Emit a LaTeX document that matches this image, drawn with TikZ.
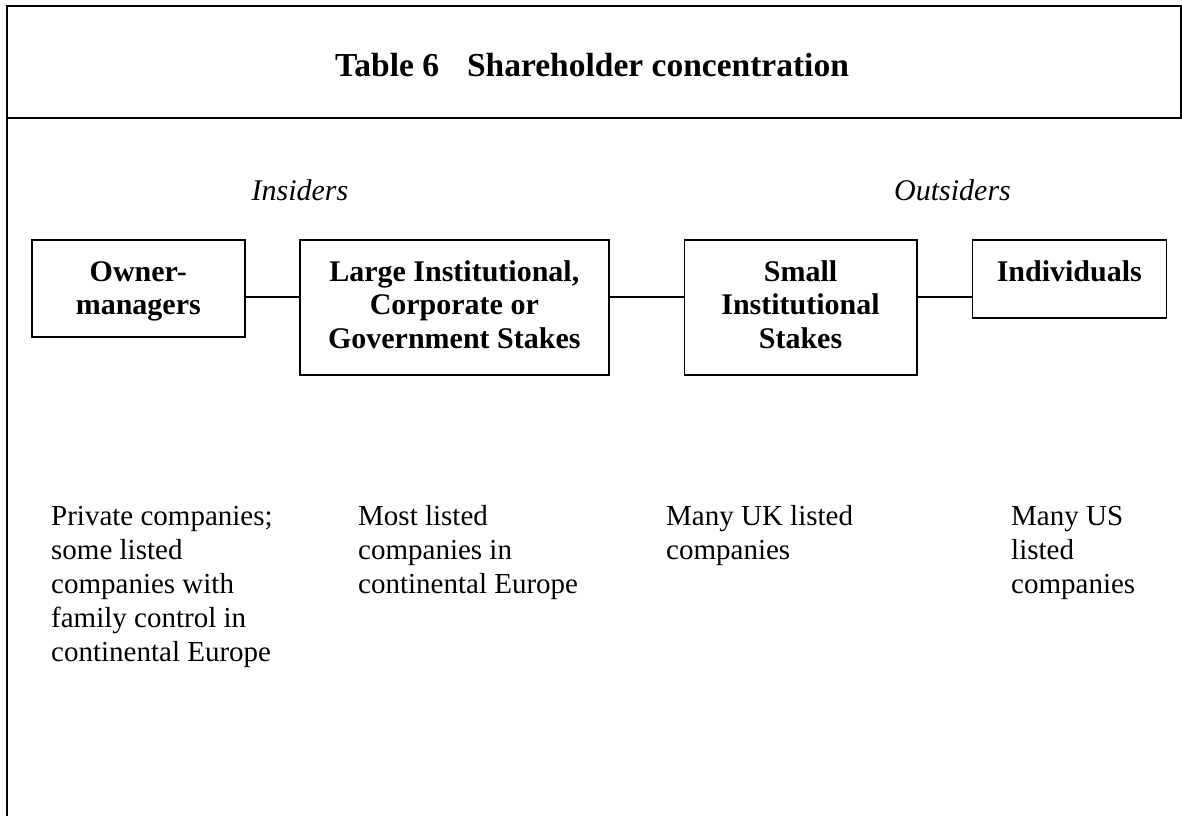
\documentclass[tikz,border=0pt]{standalone}
\usepackage{fontspec}
\setmainfont{Liberation Serif}
\usetikzlibrary{calc}
\begin{document}
\begin{tikzpicture}[x=1pt,y=-1pt,
  frameline/.style={line width=2pt},
  stakebox/.style={draw, line width=1.6pt, inner sep=0pt, anchor=north west},
  boxlabel/.style={anchor=base, inner sep=0pt, font=\fontsize{30}{33.5}\selectfont\bfseries},
  titletext/.style={anchor=base, inner sep=0pt, font=\fontsize{33.5}{40}\selectfont\bfseries},
  side/.style={anchor=base, inner sep=0pt, font=\fontsize{30}{34}\selectfont\itshape},
  note/.style={anchor=base west, inner sep=0pt, font=\fontsize{29}{34}\selectfont},
  link/.style={line width=1.5pt}]
\useasboundingbox (0,0) rectangle (1182,816);
% table frame
\draw[frameline] (7,816) -- (7,6) -- (1181,6) -- (1181,118);
\draw[frameline] (7,118) -- (1182,118);
% title
\node[titletext] (title) at (592,77) {Table 6\hspace{28pt}Shareholder concentration};
% side labels
\node[side] (insiders) at (300,200) {Insiders};
\node[side] (outsiders) at (952.5,200) {Outsiders};
% boxes
\node[stakebox, minimum width=213pt, minimum height=97pt] (owner) at (31,239) {};
\node[stakebox, minimum width=309pt, minimum height=135pt] (large) at (299,239) {};
\node[stakebox, minimum width=232.5pt, minimum height=135pt] (small) at (683.5,239) {};
\node[stakebox, minimum width=194pt, minimum height=78pt] (indiv) at (971.5,239) {};
% box labels
\node[boxlabel] (ownerlbl) at ($(owner.north)+(0,42)$) {\parbox[t]{200pt}{\centering Owner-\\managers}};
\node[boxlabel] (largelbl) at ($(large.north)+(0,42)$) {\parbox[t]{300pt}{\centering Large Institutional,\\Corporate or\\Government Stakes}};
\node[boxlabel] (smalllbl) at ($(small.north)+(0,42)$) {\parbox[t]{220pt}{\centering Small\\Institutional\\Stakes}};
\node[boxlabel] (indivlbl) at ($(indiv.north)+(0,42)$) {\parbox[t]{190pt}{\centering Individuals}};
% connectors
\coordinate (cy) at (0,297);
\draw[link] (owner.east |- cy) -- (large.west |- cy);
\draw[link] (large.east |- cy) -- (small.west |- cy);
\draw[link] (small.east |- cy) -- (indiv.west |- cy);
% notes
\node[note] (n1) at (51,525) {\parbox[t]{300pt}{\raggedright Private companies;\\some listed\\companies with\\family control in\\continental Europe}};
\node[note] (n2) at (358,525) {\parbox[t]{300pt}{\raggedright Most listed\\companies in\\continental Europe}};
\node[note] (n3) at (666,525) {\parbox[t]{300pt}{\raggedright Many UK listed\\companies}};
\node[note] (n4) at (1011,525) {\parbox[t]{160pt}{\raggedright Many US\\listed\\companies}};
\end{tikzpicture}
\end{document}
